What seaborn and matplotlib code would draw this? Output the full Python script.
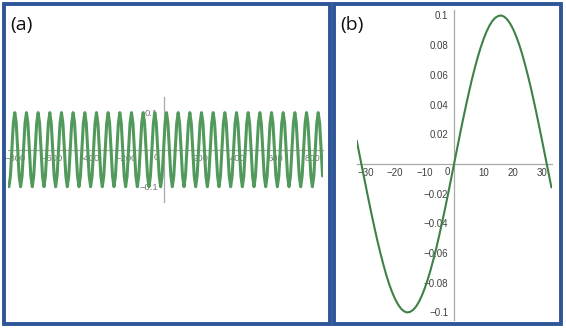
import numpy as np
import pandas as pd
import matplotlib
matplotlib.use("Agg")
import matplotlib.pyplot as plt
import seaborn as sns
from matplotlib.patches import Rectangle
from matplotlib.ticker import FuncFormatter

# ---------------- data ----------------
# panel (a): wave sampled every 1/8 cycle (cycle ~62.8 units), read from picture
a_y = [
    -0.1, -0.071, 0, 0.071, 0.1, 0.071, 0, -0.071,
    -0.1, -0.071, 0, 0.071, 0.1, 0.071, 0, -0.071,
    -0.1, -0.071, 0, 0.071, 0.1, 0.071, 0, -0.071,
    -0.1, -0.071, 0, 0.071, 0.1, 0.071, 0, -0.071,
    -0.1, -0.071, 0, 0.071, 0.1, 0.071, 0, -0.071,
    -0.1, -0.071, 0, 0.071, 0.1, 0.071, 0, -0.071,
    -0.1, -0.071, 0, 0.071, 0.1, 0.071, 0, -0.071,
    -0.1, -0.071, 0, 0.071, 0.1, 0.071, 0, -0.071,
    -0.1, -0.071, 0, 0.071, 0.1, 0.071, 0, -0.071,
    -0.1, -0.071, 0, 0.071, 0.1, 0.071, 0, -0.071,
    -0.1, -0.071, 0, 0.071, 0.1, 0.071, 0, -0.071,
    -0.1, -0.071, 0, 0.071, 0.1, 0.071, 0, -0.071,
    -0.1, -0.071, 0, 0.071, 0.1, 0.071, 0, -0.071,
    -0.1, -0.071, 0, 0.071, 0.1, 0.071, 0, -0.071,
    -0.1, -0.071, 0, 0.071, 0.1, 0.071, 0, -0.071,
    -0.1, -0.071, 0, 0.071, 0.1, 0.071, 0, -0.071,
    -0.1, -0.071, 0, 0.071, 0.1, 0.071, 0, -0.071,
    -0.1, -0.071, 0, 0.071, 0.1, 0.071, 0, -0.071,
    -0.1, -0.071, 0, 0.071, 0.1, 0.071, 0, -0.071,
    -0.1, -0.071, 0, 0.071, 0.1, 0.071, 0, -0.071,
    -0.1, -0.071, 0, 0.071, 0.1, 0.071, 0, -0.071,
    -0.1, -0.071, 0, 0.071, 0.1, 0.071, 0, -0.071,
    -0.1, -0.071, 0, 0.071, 0.1, 0.071, 0, -0.071,
    -0.1, -0.071, 0, 0.071, 0.1, 0.071, 0, -0.071,
    -0.1, -0.071, 0, 0.071, 0.1, 0.071, 0, -0.071,
    -0.1, -0.071, 0, 0.071, 0.1, 0.071, 0, -0.071,
    -0.1, -0.071, 0, 0.071, 0.1, 0.071, 0, -0.071,
]
a_x_start, a_x_end = -832.5, 856.1
a_xticks = [-800, -600, -400, -200, 200, 400, 600, 800]
a_yticks = [-0.1, 0.1]

# panel (b): one cycle
b_x = list(range(-33, 34))
b_y = [
    0.0158, 0.0058, -0.0042, -0.0141, -0.0239, -0.0335, -0.0427, -0.0516,
    -0.0598, -0.0675, -0.0746, -0.0809, -0.0863, -0.0909, -0.0946, -0.0974,
    -0.0992, -0.1000, -0.0997, -0.0985, -0.0964, -0.0932, -0.0891, -0.0841,
    -0.0783, -0.0717, -0.0644, -0.0565, -0.0479, -0.0389, -0.0296, -0.0199,
    -0.0100,
    0.0,
    0.0100, 0.0199, 0.0296, 0.0389, 0.0479, 0.0565, 0.0644, 0.0717,
    0.0783, 0.0841, 0.0891, 0.0932, 0.0964, 0.0985, 0.0997, 0.1000,
    0.0992, 0.0974, 0.0946, 0.0909, 0.0863, 0.0809, 0.0746, 0.0675,
    0.0598, 0.0516, 0.0427, 0.0335, 0.0239, 0.0141, 0.0042, -0.0058,
    -0.0158,
]
b_xticks = [-30, -20, -10, 10, 20, 30]
b_yticks = [-0.1, -0.08, -0.06, -0.04, -0.02, 0.02, 0.04, 0.06, 0.08, 0.1]
panel_labels = ["(a)", "(b)"]

# ---------------- style ----------------
sns.set_theme(style="white")
plt.rcParams["font.family"] = ["Liberation Sans", "DejaVu Sans"]

W, H = 566, 329
fig = plt.figure(figsize=(W / 100, H / 100), dpi=100)
fig.patch.set_facecolor("white")

def fr(x0, y0, x1, y1):
    """pixel box (top-left origin) -> figure fraction rect"""
    return [x0 / W, 1 - y1 / H, (x1 - x0) / W, (y1 - y0) / H]

axis_gray = "#a8a8a8"
blue = "#2e5597"

def fmt(v, pos=None):
    s = f"{v:g}"
    return s.replace("-", "\u2212")

def style_axes(ax, label_color, fs):
    for s in ["top", "right"]:
        ax.spines[s].set_visible(False)
    for s in ["left", "bottom"]:
        ax.spines[s].set_position(("data", 0))
        ax.spines[s].set_color(axis_gray)
        ax.spines[s].set_linewidth(0.9)
        ax.spines[s].set_zorder(1)
    ax.tick_params(axis="both", direction="in", length=2.5, width=0.7,
                   color=axis_gray, labelsize=fs, labelcolor=label_color)
    ax.tick_params(axis="x", pad=3)
    ax.tick_params(axis="y", pad=4)
    ax.xaxis.set_major_formatter(FuncFormatter(fmt))
    ax.yaxis.set_major_formatter(FuncFormatter(fmt))
    ax.set_xlabel("")
    ax.set_ylabel("")
    ax.patch.set_alpha(0)

# ---- panel (a)
axa = fig.add_axes(fr(8.3, 96.7, 323.3, 201.7))
dfa = pd.DataFrame({"x": np.linspace(a_x_start, a_x_end, len(a_y)), "y": a_y})
sns.lineplot(data=dfa, x="x", y="y", ax=axa, color="#529a5c", linewidth=2.2,
             estimator=None, sort=False)
axa.set_xlim(-836, 860)
axa.set_ylim(-0.1405, 0.143)
axa.set_xticks(a_xticks)
axa.set_yticks(a_yticks)
style_axes(axa, "#777777", 6.8)
axa.annotate("0", xy=(0, 0), xytext=(-5, -2.5), textcoords="offset points",
             ha="center", va="top", fontsize=6.8, color="#777777", zorder=1)

# ---- panel (b)
axb = fig.add_axes(fr(356.7, 10, 551.7, 320))
dfb = pd.DataFrame({"x": b_x, "y": b_y})
sns.lineplot(data=dfb, x="x", y="y", ax=axb, color="#3f8048", linewidth=1.5,
             estimator=None, sort=False)
axb.set_xlim(-33, 33.1)
axb.set_ylim(-0.1051, 0.1037)
axb.set_xticks(b_xticks)
axb.set_yticks(b_yticks)
style_axes(axb, "#404040", 7)
axb.annotate("0", xy=(0, 0), xytext=(-4.5, -2.5), textcoords="offset points",
             ha="center", va="top", fontsize=7, color="#404040", zorder=1)

# ---- panel borders and labels
fig.patches.append(Rectangle((4 / W, 1 - 324 / H), (329.5 - 4) / W, (324 - 4) / H,
                             transform=fig.transFigure, fill=False,
                             edgecolor=blue, linewidth=2.8, zorder=10))
fig.patches.append(Rectangle((333.5 / W, 1 - 324 / H), (561 - 333.5) / W, (324 - 4) / H,
                             transform=fig.transFigure, fill=False,
                             edgecolor=blue, linewidth=2.8, zorder=10))
lab_font = ["Open Sans", "DejaVu Sans"]
fig.text(10 / W, 1 - 25 / H, panel_labels[0], fontsize=14, family=lab_font,
         ha="left", va="center", color="#111111")
fig.text(340 / W, 1 - 25 / H, panel_labels[1], fontsize=14, family=lab_font,
         ha="left", va="center", color="#111111")

fig.savefig("out.png", dpi=100, facecolor="white")
